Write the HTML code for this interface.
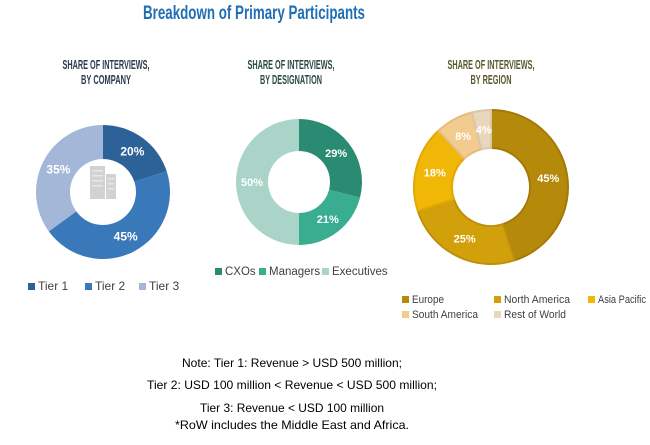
<!DOCTYPE html>
<html><head><meta charset="utf-8"><style>
html,body{margin:0;padding:0;background:#fff;}
svg{display:block;font-family:"Liberation Sans",sans-serif;}
</style></head><body>
<svg id="c" width="650" height="445" viewBox="0 0 650 445">
<text x="254" y="19" text-anchor="middle" font-size="19" font-weight="bold" fill="#1f6fb4" textLength="222" lengthAdjust="spacingAndGlyphs">Breakdown of Primary Participants</text>
<g font-size="13" font-weight="bold" text-anchor="middle">
<text x="106" y="69" fill="#2d3b4f" textLength="87" lengthAdjust="spacingAndGlyphs">SHARE OF INTERVIEWS,</text>
<text x="106" y="84" fill="#2d3b4f" textLength="50" lengthAdjust="spacingAndGlyphs">BY COMPANY</text>
<text x="291" y="69" fill="#2c4a45" textLength="87" lengthAdjust="spacingAndGlyphs">SHARE OF INTERVIEWS,</text>
<text x="291" y="84" fill="#2c4a45" textLength="62" lengthAdjust="spacingAndGlyphs">BY DESIGNATION</text>
<text x="491" y="69" fill="#5a5a2e" textLength="87" lengthAdjust="spacingAndGlyphs">SHARE OF INTERVIEWS,</text>
<text x="491" y="84" fill="#5a5a2e" textLength="41" lengthAdjust="spacingAndGlyphs">BY REGION</text>
</g>
<g id="building">
<rect x="90" y="166" width="15" height="33" fill="#d2d2d2"/>
<rect x="106" y="174" width="10" height="25" fill="#d2d2d2"/>
<g fill="#e8e8e8">
<rect x="92" y="170" width="11" height="1.5"/><rect x="92" y="175" width="11" height="1.5"/><rect x="92" y="180" width="11" height="1.5"/><rect x="92" y="185" width="11" height="1.5"/>
<rect x="108" y="178" width="6" height="1.5"/><rect x="108" y="183" width="6" height="1.5"/><rect x="108" y="188" width="6" height="1.5"/>
</g>
</g>
<g font-size="12" fill="#000" text-anchor="middle">
<text x="292" y="367" textLength="220" lengthAdjust="spacingAndGlyphs">Note: Tier 1: Revenue &gt; USD 500 million;</text>
<text x="292" y="389" textLength="290" lengthAdjust="spacingAndGlyphs">Tier 2: USD 100 million &lt; Revenue &lt; USD 500 million;</text>
<text x="292" y="412" textLength="184" lengthAdjust="spacingAndGlyphs">Tier 3: Revenue &lt; USD 100 million</text>
<text x="292" y="429" textLength="234" lengthAdjust="spacingAndGlyphs">*RoW includes the Middle East and Africa.</text>
</g>
</svg>
<script>
const companyCats=["Tier 1","Tier 2","Tier 3"];
const companyVals=[20,45,35];
const designationCats=["CXOs","Managers","Executives"];
const designationVals=[29,21,50];
const regionCats=["Europe","North America","Asia Pacific","South America","Rest of World"];
const regionVals=[45,25,18,8,4];

const NS="http://www.w3.org/2000/svg";
const svg=document.getElementById('c');
function mk(t,a){const e=document.createElementNS(NS,t);for(const k in a)e.setAttribute(k,a[k]);return e;}
function pt(cx,cy,r,a){return [cx+r*Math.sin(a),cy-r*Math.cos(a)];}
function donut(name,vals,cats,colors,cx,cy,R,r,stroke,labelFont){
  const g=mk('g',{});
  
  
  svg.appendChild(g);
  const tot=vals.reduce((s,v)=>s+v,0);
  let a0=0;
  vals.forEach((v,i)=>{
    const a1=a0+v/tot*2*Math.PI;
    const [x1,y1]=pt(cx,cy,R,a0),[x2,y2]=pt(cx,cy,R,a1),[x3,y3]=pt(cx,cy,r,a1),[x4,y4]=pt(cx,cy,r,a0);
    const lg=(a1-a0)>Math.PI?1:0;
    const p=mk('path',{d:`M${x1},${y1}A${R},${R} 0 ${lg} 1 ${x2},${y2}L${x3},${y3}A${r},${r} 0 ${lg} 0 ${x4},${y4}Z`,fill:colors[i],stroke:stroke?stroke[i]:'none','stroke-width':stroke?2:0});
    
    
    g.appendChild(p);
    const m=(a0+a1)/2;const [lx,ly]=pt(cx,cy,(R+r)/2,m);
    const t=mk('text',{x:lx,y:ly+4,'text-anchor':'middle','font-size':labelFont,'font-weight':'bold',fill:'#fff'});
    t.textContent=v+'%';
    
    
    g.appendChild(t);
    a0=a1;
  });
}
function legend(name,items,colors,positions,fs,lens){
  items.forEach((c,i)=>{
    const [x,y]=positions[i];
    const g=mk('g',{});
    
    
    g.appendChild(mk('rect',{x:x,y:y-7,width:7,height:7,fill:colors[i]}));
    const t=mk('text',{x:x+10,y:y,'font-size':fs,fill:'#404040'});
    if(lens){t.setAttribute('textLength',lens[i]);t.setAttribute('lengthAdjust','spacingAndGlyphs');}
    t.textContent=c;g.appendChild(t);svg.appendChild(g);
  });
}
const cC=["#2d6299","#3a79b9","#a4b7d8"];
const dC=["#2b8a72","#38ad90","#a9d4c7"];
const rC=["#b5890a","#d2a00b","#f1b706","#f2cb8e","#ead6bd"];
const rS=["#a27a08","#be900a","#e0a905","#e4bb7d","#dcc6ab"];
donut('company',companyVals,companyCats,cC,103,192,67,33,null,12);
donut('designation',designationVals,designationCats,dC,299,182,63,31,null,11);
donut('region',regionVals,regionCats,rC,491,187,77,39,rS,11);
svg.appendChild(document.getElementById('building'));
legend('company',companyCats,cC,[[28,290],[85,290],[139,290]],12);
legend('designation',designationCats,dC,[[215,275],[259,275],[322,275]],11.5);
legend('region',regionCats,rC,[[402,303],[494,303],[588,303],[402,318],[494,318]],11,[32,66,48,66,62]);
</script>
</body></html>
